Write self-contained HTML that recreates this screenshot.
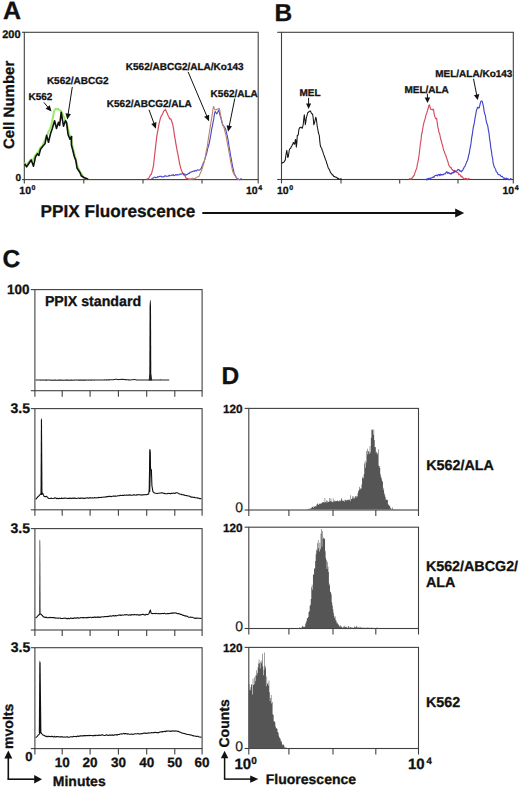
<!DOCTYPE html>
<html><head><meta charset="utf-8"><style>
html,body{margin:0;padding:0;background:#fff;}
svg{display:block;font-family:"Liberation Sans",sans-serif;}
text{stroke:#111;stroke-width:0.3px;stroke-linejoin:round;text-rendering:geometricPrecision;}
</style></head><body>
<svg width="520" height="788" viewBox="0 0 520 788">
<rect width="520" height="788" fill="#fff"/>
<text x="3.00" y="19.20" font-size="25" font-weight="bold" text-anchor="start" fill="#111" >A</text>
<rect x="24.30" y="32.30" width="233.90" height="147.30" fill="none" stroke="#404040" stroke-width="1.1"/>
<line x1="22.00" y1="32.30" x2="24.30" y2="32.30" stroke="#404040" stroke-width="1.1"/>
<line x1="22.00" y1="179.60" x2="24.30" y2="179.60" stroke="#404040" stroke-width="1.1"/>
<line x1="24.30" y1="179.60" x2="24.30" y2="183.40" stroke="#404040" stroke-width="1.1"/>
<line x1="83.80" y1="179.60" x2="83.80" y2="183.40" stroke="#404040" stroke-width="1.1"/>
<line x1="143.00" y1="179.60" x2="143.00" y2="183.40" stroke="#404040" stroke-width="1.1"/>
<line x1="202.00" y1="179.60" x2="202.00" y2="183.40" stroke="#404040" stroke-width="1.1"/>
<line x1="258.20" y1="179.60" x2="258.20" y2="183.40" stroke="#404040" stroke-width="1.1"/>
<text x="20.60" y="37.60" font-size="11" font-weight="bold" text-anchor="end" fill="#111" >200</text>
<text x="21.00" y="181.00" font-size="10" font-weight="bold" text-anchor="end" fill="#111" >0</text>
<text x="19.30" y="194.20" font-size="10.5" font-weight="bold" fill="#111">10</text>
<text x="31.58" y="190.20" font-size="7" font-weight="bold" fill="#111">0</text>
<text x="246.00" y="194.20" font-size="10.5" font-weight="bold" fill="#111">10</text>
<text x="258.28" y="190.20" font-size="7" font-weight="bold" fill="#111">4</text>
<text transform="translate(13.9,149.1) rotate(-90)" font-size="15" font-weight="bold" fill="#111">Cell Number</text>
<text x="28.50" y="100.20" font-size="10" font-weight="bold" text-anchor="start" fill="#111" >K562</text>
<text x="46.90" y="84.20" font-size="10" font-weight="bold" text-anchor="start" fill="#111" >K562/ABCG2</text>
<text x="106.80" y="107.00" font-size="10" font-weight="bold" text-anchor="start" fill="#111" >K562/ABCG2/ALA</text>
<text x="125.80" y="70.30" font-size="10" font-weight="bold" text-anchor="start" fill="#111" >K562/ABCG2/ALA/Ko143</text>
<text x="210.60" y="97.40" font-size="10" font-weight="bold" text-anchor="start" fill="#111" >K562/ALA</text>
<polyline points="24.50,162.56 25.30,164.06 26.10,164.60 26.90,164.63 27.70,163.83 28.50,162.44 29.30,161.35 30.10,160.35 30.90,159.51 31.70,159.43 32.50,160.40 33.30,159.32 34.10,158.11 34.90,155.60 35.70,154.69 36.50,154.07 37.30,152.51 38.10,152.37 38.90,151.04 39.70,148.72 40.50,147.43 41.30,146.93 42.10,146.29 42.90,144.50 43.70,142.62 44.50,141.11 45.30,138.87 46.10,137.17 46.90,135.43 47.70,133.59 48.50,131.68 49.30,130.08 50.10,128.36 50.90,126.25 51.70,123.65 52.50,119.35 53.30,115.41 54.10,111.07 54.90,109.68 55.70,108.47 56.50,109.37 57.30,109.50 58.10,108.90 58.90,109.46 59.70,110.25 60.50,110.55 61.30,111.70 62.10,112.88 62.90,115.17 63.70,116.78 64.50,118.14 65.30,120.21 66.10,122.16 66.90,123.72 67.70,126.83 68.50,130.73 69.30,133.49 70.10,136.54 70.90,140.01 71.70,142.70 72.50,145.61 73.30,149.26 74.10,152.64 74.90,155.81 75.70,158.65 76.50,161.93 77.30,165.21 78.10,167.77 78.90,169.39 79.70,171.15 80.50,172.68 81.30,173.22 82.10,174.34 82.90,176.23 83.70,177.67 84.50,177.82 85.30,177.92 86.10,178.00 86.90,178.74 87.70,179.65" fill="none" stroke="#9ae86c" stroke-width="2.0" stroke-linejoin="round" />
<polyline points="24.50,163.80 26.60,166.90 28.50,164.00 31.20,160.00 33.50,166.20 35.50,156.90 37.40,153.80 38.90,155.40 40.50,149.20 42.80,146.20 45.00,143.80 46.60,135.40 48.50,142.30 50.50,133.80 52.30,128.50 54.60,120.80 56.50,128.50 58.50,122.30 59.60,125.40 61.20,112.30 63.50,126.20 65.40,120.80 66.50,122.30 68.10,134.60 70.00,139.20 71.60,136.50 71.40,145.00 72.80,150.40 74.30,156.50 75.80,160.40 77.00,168.00 80.10,172.70 81.20,175.80 84.30,177.70 88.20,179.20" fill="none" stroke="#111" stroke-width="1.6" stroke-linejoin="round" />
<polyline points="146.50,178.99 147.20,179.15 147.90,178.92 148.60,178.32 149.30,177.27 150.00,175.75 150.70,174.63 151.40,174.22 152.10,171.31 152.80,168.60 153.50,165.53 154.20,158.94 154.90,153.05 155.60,146.59 156.30,140.54 157.00,134.89 157.70,131.23 158.40,127.37 159.10,123.70 159.80,120.58 160.50,118.02 161.20,116.09 161.90,115.21 162.60,113.71 163.30,112.12 164.00,110.74 164.70,110.50 165.40,109.28 166.10,110.88 166.80,112.40 167.50,113.84 168.20,115.70 168.90,117.10 169.60,118.80 170.30,118.71 171.00,119.29 171.70,121.19 172.40,123.20 173.10,126.33 173.80,130.68 174.50,135.56 175.20,139.42 175.90,143.85 176.60,147.57 177.30,151.32 178.00,154.80 178.70,158.53 179.40,162.50 180.10,165.69 180.80,168.34 181.50,170.55 182.20,171.96 182.90,173.12 183.60,174.44 184.30,175.27 185.00,175.88 185.70,177.46 186.40,178.37 187.10,178.65 187.80,178.72 188.50,179.17 189.20,178.79 189.90,179.32 190.60,179.14 191.30,178.93 192.00,178.78 192.70,179.44 193.40,179.57" fill="none" stroke="#d64c5e" stroke-width="1.2" stroke-linejoin="round" />
<polyline points="151.50,178.88 152.20,178.34 152.90,178.32 153.60,177.65 154.30,177.16 155.00,177.18 155.70,177.72 156.40,177.50 157.10,177.38 157.80,176.66 158.50,176.96 159.20,176.57 159.90,176.36 160.60,176.21 161.30,176.26 162.00,177.04 162.70,176.84 163.40,176.73 164.10,176.64 164.80,175.83 165.50,175.88 166.20,176.17 166.90,176.22 167.60,176.28 168.30,176.22 169.00,175.19 169.70,175.72 170.40,175.72 171.10,175.43 171.80,174.95 172.50,175.22 173.20,174.68 173.90,175.61 174.60,175.44 175.30,174.95 176.00,174.55 176.70,175.18 177.40,174.67 178.10,174.94 178.80,174.80 179.50,174.28 180.20,174.07 180.90,174.19 181.60,173.88 182.30,173.45 183.00,173.69 183.70,174.60 184.40,173.98 185.10,174.28 185.80,175.28 186.50,174.81 187.20,174.58 187.90,173.97 188.60,173.28 189.30,173.53 190.00,172.19 190.70,172.20 191.40,171.69 192.10,171.95 192.80,171.27 193.50,171.11 194.20,171.33 194.90,170.57 195.60,170.66 196.30,171.02 197.00,170.00 197.70,169.90 198.40,169.95 199.10,170.30 199.80,169.84 200.50,169.09 201.20,168.50 201.90,166.60 202.60,165.21 203.30,162.98 204.00,161.88 204.70,159.82 205.40,157.59 206.10,155.02 206.80,152.99 207.50,149.40 208.20,146.84 208.90,144.77 209.60,141.28 210.30,137.38 211.00,133.74 211.70,129.07 212.40,125.83 213.10,122.05 213.80,118.49 214.50,113.64 215.20,111.46 215.90,112.46 216.60,113.85 217.30,113.20 218.00,111.41 218.70,110.05 219.40,112.30 220.10,115.72 220.80,117.95 221.50,120.70 222.20,123.31 222.90,125.59 223.60,125.87 224.30,126.73 225.00,127.92 225.70,129.27 226.40,132.04 227.10,135.49 227.80,138.31 228.50,142.47 229.20,147.29 229.90,151.04 230.60,155.99 231.30,158.87 232.00,163.15 232.70,167.23 233.40,169.63 234.10,173.17 234.80,174.59 235.50,175.74 236.20,177.37 236.90,178.03 237.60,178.81 238.30,178.91 239.00,179.77 239.70,179.70 240.40,179.30 241.10,178.74 241.80,179.01" fill="none" stroke="#4444cc" stroke-width="1.1" stroke-linejoin="round" />
<polyline points="188.50,179.29 189.20,179.29 189.90,179.25 190.60,179.27 191.30,179.05 192.00,179.09 192.70,178.39 193.40,178.61 194.10,178.87 194.80,178.50 195.50,178.33 196.20,177.43 196.90,177.33 197.60,176.82 198.30,176.68 199.00,176.35 199.70,174.60 200.40,172.98 201.10,171.25 201.80,169.79 202.50,167.59 203.20,165.06 203.90,163.26 204.60,159.65 205.30,156.83 206.00,152.97 206.70,149.10 207.40,145.78 208.10,140.54 208.80,135.77 209.50,131.74 210.20,127.19 210.90,122.34 211.60,118.53 212.30,113.95 213.00,108.99 213.70,106.45 214.40,108.97 215.10,109.86 215.80,109.87 216.50,109.63 217.20,109.04 217.90,108.93 218.60,108.64 219.30,108.47 220.00,111.55 220.70,115.34 221.40,118.88 222.10,121.80 222.80,124.58 223.50,126.23 224.20,128.33 224.90,131.37 225.60,133.82 226.30,137.18 227.00,141.08 227.70,145.04 228.40,148.41 229.10,152.89 229.80,156.23 230.50,160.79 231.20,164.68 231.90,167.40 232.60,171.23 233.30,172.63 234.00,174.21 234.70,175.24 235.40,176.37 236.10,177.32 236.80,178.71 237.50,178.81 238.20,179.28 238.90,179.48 239.60,179.56" fill="none" stroke="#b8846c" stroke-width="1.1" stroke-linejoin="round" />
<line x1="43.80" y1="102.30" x2="47.97" y2="107.28" stroke="#111" stroke-width="1.0"/>
<polygon points="51.50,111.50 45.54,108.66 49.76,105.13" fill="#111"/>
<line x1="72.30" y1="86.90" x2="68.13" y2="114.16" stroke="#111" stroke-width="1.0"/>
<polygon points="67.30,119.60 65.49,113.25 70.93,114.08" fill="#111"/>
<line x1="149.00" y1="109.80" x2="154.01" y2="123.53" stroke="#111" stroke-width="1.0"/>
<polygon points="155.90,128.70 151.26,124.01 156.43,122.12" fill="#111"/>
<line x1="188.10" y1="71.90" x2="206.86" y2="116.23" stroke="#111" stroke-width="1.0"/>
<polygon points="209.00,121.30 204.13,116.85 209.19,114.70" fill="#111"/>
<line x1="234.80" y1="98.50" x2="229.19" y2="126.31" stroke="#111" stroke-width="1.0"/>
<polygon points="228.10,131.70 226.59,125.27 231.98,126.36" fill="#111"/>
<text x="274.40" y="21.10" font-size="24.5" font-weight="bold" text-anchor="start" fill="#111" >B</text>
<rect x="281.50" y="32.30" width="231.80" height="147.20" fill="none" stroke="#404040" stroke-width="1.1"/>
<line x1="277.20" y1="32.30" x2="281.50" y2="32.30" stroke="#404040" stroke-width="1.1"/>
<line x1="277.20" y1="179.50" x2="281.50" y2="179.50" stroke="#404040" stroke-width="1.1"/>
<line x1="281.50" y1="179.50" x2="281.50" y2="183.40" stroke="#404040" stroke-width="1.1"/>
<line x1="341.00" y1="179.50" x2="341.00" y2="183.40" stroke="#404040" stroke-width="1.1"/>
<line x1="399.70" y1="179.50" x2="399.70" y2="183.40" stroke="#404040" stroke-width="1.1"/>
<line x1="458.00" y1="179.50" x2="458.00" y2="183.40" stroke="#404040" stroke-width="1.1"/>
<line x1="513.30" y1="179.50" x2="513.30" y2="183.40" stroke="#404040" stroke-width="1.1"/>
<text x="277.00" y="194.20" font-size="10.5" font-weight="bold" fill="#111">10</text>
<text x="289.28" y="190.20" font-size="7" font-weight="bold" fill="#111">0</text>
<text x="502.50" y="194.20" font-size="10.5" font-weight="bold" fill="#111">10</text>
<text x="514.78" y="190.20" font-size="7" font-weight="bold" fill="#111">4</text>
<text x="299.40" y="95.90" font-size="10" font-weight="bold" text-anchor="start" fill="#111" >MEL</text>
<text x="404.40" y="92.60" font-size="10" font-weight="bold" text-anchor="start" fill="#111" >MEL/ALA</text>
<text x="435.20" y="77.40" font-size="10" font-weight="bold" text-anchor="start" fill="#111" >MEL/ALA/Ko143</text>
<line x1="308.60" y1="97.80" x2="308.60" y2="104.00" stroke="#111" stroke-width="1.0"/>
<polygon points="308.60,109.00 306.10,103.50 311.10,103.50" fill="#111"/>
<line x1="427.40" y1="93.80" x2="427.45" y2="98.00" stroke="#111" stroke-width="1.0"/>
<polygon points="427.50,103.00 424.69,97.53 430.19,97.47" fill="#111"/>
<line x1="473.50" y1="78.80" x2="476.73" y2="95.10" stroke="#111" stroke-width="1.0"/>
<polygon points="477.70,100.00 473.93,95.14 479.33,94.07" fill="#111"/>
<polyline points="281.80,163.29 282.30,162.88 282.80,162.29 283.30,162.56 283.80,162.19 284.30,161.82 284.80,160.60 285.30,159.86 285.80,155.97 286.30,152.87 286.80,150.26 287.30,154.21 287.80,157.56 288.30,156.56 288.80,153.26 289.30,149.98 289.80,148.85 290.30,148.57 290.80,148.10 291.30,146.52 291.80,146.02 292.30,144.89 292.80,144.04 293.30,142.54 293.80,142.90 294.30,144.21 294.80,143.92 295.30,139.61 295.80,139.79 296.30,147.15 296.80,143.12 297.30,135.39 297.80,135.55 298.30,134.09 298.80,130.20 299.30,128.37 299.80,127.60 300.30,127.70 300.80,127.20 301.30,127.24 301.80,128.02 302.30,128.21 302.80,126.37 303.30,123.73 303.80,118.67 304.30,114.88 304.80,119.06 305.30,124.70 305.80,121.81 306.30,118.13 306.80,116.10 307.30,114.36 307.80,112.57 308.30,112.39 308.80,111.74 309.30,111.33 309.80,111.32 310.30,110.90 310.80,111.75 311.30,113.19 311.80,113.78 312.30,113.78 312.80,115.24 313.30,118.97 313.80,124.73 314.30,123.57 314.80,121.56 315.30,119.32 315.80,117.17 316.30,118.82 316.80,122.78 317.30,126.96 317.80,129.09 318.30,132.24 318.80,134.13 319.30,135.35 319.80,141.33 320.30,145.53 320.80,147.06 321.30,147.77 321.80,148.77 322.30,150.49 322.80,151.55 323.30,153.43 323.80,154.90 324.30,156.05 324.80,157.45 325.30,159.12 325.80,160.26 326.30,161.39 326.80,163.57 327.30,164.61 327.80,166.36 328.30,168.18 328.80,168.76 329.30,169.59 329.80,170.67 330.30,172.11 330.80,172.86 331.30,173.27 331.80,173.98 332.30,174.97 332.80,174.81 333.30,175.48 333.80,176.47 334.30,176.66 334.80,176.57 335.30,177.02 335.80,177.28 336.30,177.19 336.80,177.68 337.30,177.86 337.80,178.60 338.30,178.37 338.80,178.96 339.30,179.35 339.80,179.38 340.30,178.91 340.80,179.22 341.30,179.01 341.80,179.17" fill="none" stroke="#151515" stroke-width="1.05" stroke-linejoin="round" />
<polyline points="409.00,179.02 409.60,178.72 410.20,179.49 410.80,178.54 411.40,179.14 412.00,178.16 412.60,176.97 413.20,176.98 413.80,175.53 414.40,175.09 415.00,172.68 415.60,170.88 416.20,169.59 416.80,167.99 417.40,164.20 418.00,161.69 418.60,158.55 419.20,154.16 419.80,148.66 420.40,143.75 421.00,140.19 421.60,134.22 422.20,132.22 422.80,128.24 423.40,124.94 424.00,122.36 424.60,120.23 425.20,118.61 425.80,115.54 426.40,114.14 427.00,112.23 427.60,110.05 428.20,108.51 428.80,105.56 429.40,104.76 430.00,107.00 430.60,109.23 431.20,109.25 431.80,109.49 432.40,109.84 433.00,109.03 433.60,110.06 434.20,114.02 434.80,116.45 435.40,118.02 436.00,118.92 436.60,118.24 437.20,122.53 437.80,126.90 438.40,128.99 439.00,132.53 439.60,133.59 440.20,136.54 440.80,139.55 441.40,141.03 442.00,143.87 442.60,145.45 443.20,148.64 443.80,150.42 444.40,151.73 445.00,153.84 445.60,154.57 446.20,156.80 446.80,158.42 447.40,160.33 448.00,162.06 448.60,164.35 449.20,165.93 449.80,166.59 450.40,167.76 451.00,167.40 451.60,169.02 452.20,169.54 452.80,170.52 453.40,170.64 454.00,170.17 454.60,170.73 455.20,171.58 455.80,170.94 456.40,172.15 457.00,172.19 457.60,172.62 458.20,173.04 458.80,174.69 459.40,174.17 460.00,174.86 460.60,175.59 461.20,176.85 461.80,176.08 462.40,177.17 463.00,177.74 463.60,178.58 464.20,178.79 464.80,179.18 465.40,178.39 466.00,178.68 466.60,178.67 467.20,179.58 467.80,179.77 468.40,178.55 469.00,178.66 469.60,178.82" fill="none" stroke="#d64c5e" stroke-width="1.15" stroke-linejoin="round" />
<polyline points="426.00,178.86 426.60,180.01 427.20,178.64 427.80,179.54 428.40,178.43 429.00,178.46 429.60,179.44 430.20,177.96 430.80,178.43 431.40,177.92 432.00,177.68 432.60,177.53 433.20,176.76 433.80,177.48 434.40,175.99 435.00,175.92 435.60,175.28 436.20,175.38 436.80,175.30 437.40,175.83 438.00,174.93 438.60,174.45 439.20,174.62 439.80,175.73 440.40,174.18 441.00,175.01 441.60,174.56 442.20,174.95 442.80,174.37 443.40,174.70 444.00,173.99 444.60,173.82 445.20,173.82 445.80,172.90 446.40,171.80 447.00,171.73 447.60,173.29 448.20,172.72 448.80,172.40 449.40,173.75 450.00,173.32 450.60,173.71 451.20,174.11 451.80,172.86 452.40,172.67 453.00,173.20 453.60,171.72 454.20,172.42 454.80,171.06 455.40,171.70 456.00,171.35 456.60,171.24 457.20,170.56 457.80,169.51 458.40,169.45 459.00,169.81 459.60,170.85 460.20,171.25 460.80,170.85 461.40,171.78 462.00,170.75 462.60,170.66 463.20,169.10 463.80,168.15 464.40,166.80 465.00,166.35 465.60,164.63 466.20,163.28 466.80,161.60 467.40,160.52 468.00,158.58 468.60,155.41 469.20,153.73 469.80,149.68 470.40,146.79 471.00,143.42 471.60,138.22 472.20,135.22 472.80,130.83 473.40,126.73 474.00,124.75 474.60,120.99 475.20,117.35 475.80,114.13 476.40,110.47 477.00,108.96 477.60,107.21 478.20,107.34 478.80,108.17 479.40,107.25 480.00,104.50 480.60,102.04 481.20,101.17 481.80,100.93 482.40,101.78 483.00,104.59 483.60,107.14 484.20,111.82 484.80,114.00 485.40,115.53 486.00,119.70 486.60,122.62 487.20,124.22 487.80,126.13 488.40,130.09 489.00,133.15 489.60,138.78 490.20,142.08 490.80,147.84 491.40,150.84 492.00,155.90 492.60,158.20 493.20,163.33 493.80,165.30 494.40,167.30 495.00,168.27 495.60,169.19 496.20,171.69 496.80,172.07 497.40,172.72 498.00,174.26 498.60,174.52 499.20,174.92 499.80,174.84 500.40,175.22 501.00,176.33 501.60,176.48 502.20,176.32 502.80,177.18 503.40,178.00 504.00,178.34 504.60,178.15 505.20,178.22 505.80,178.36 506.40,178.34 507.00,178.49 507.60,179.09 508.20,178.74 508.80,179.76 509.40,179.73 510.00,179.58 510.60,178.64 511.20,179.18 511.80,179.29" fill="none" stroke="#4444cc" stroke-width="1.15" stroke-linejoin="round" />
<text x="40.60" y="217.40" font-size="17.2" font-weight="bold" text-anchor="start" fill="#111" >PPIX Fluorescence</text>
<line x1="202.30" y1="212.90" x2="457.00" y2="212.90" stroke="#111" stroke-width="2.0"/>
<polygon points="464.2,212.9 455.2,208.4 455.2,217.4" fill="#111"/>
<text x="2.60" y="267.20" font-size="24.5" font-weight="bold" text-anchor="start" fill="#111" >C</text>
<rect x="34.90" y="289.60" width="167.20" height="101.10" fill="none" stroke="#404040" stroke-width="1.1"/>
<line x1="30.80" y1="289.60" x2="34.90" y2="289.60" stroke="#404040" stroke-width="1.1"/>
<line x1="30.80" y1="390.70" x2="34.90" y2="390.70" stroke="#404040" stroke-width="1.1"/>
<line x1="34.90" y1="390.70" x2="34.90" y2="396.70" stroke="#404040" stroke-width="1.1"/>
<line x1="62.20" y1="390.70" x2="62.20" y2="396.70" stroke="#404040" stroke-width="1.1"/>
<line x1="90.10" y1="390.70" x2="90.10" y2="396.70" stroke="#404040" stroke-width="1.1"/>
<line x1="118.40" y1="390.70" x2="118.40" y2="396.70" stroke="#404040" stroke-width="1.1"/>
<line x1="146.70" y1="390.70" x2="146.70" y2="396.70" stroke="#404040" stroke-width="1.1"/>
<line x1="174.80" y1="390.70" x2="174.80" y2="396.70" stroke="#404040" stroke-width="1.1"/>
<line x1="202.10" y1="390.70" x2="202.10" y2="396.70" stroke="#404040" stroke-width="1.1"/>
<text x="29.60" y="293.90" font-size="13.5" font-weight="bold" text-anchor="end" fill="#111" >100</text>
<text x="44.90" y="306.00" font-size="14.2" font-weight="bold" text-anchor="start" fill="#111" >PPIX standard</text>
<polyline points="35.60,379.99 36.40,379.99 37.20,379.96 38.00,380.08 38.80,379.95 39.60,380.03 40.40,380.10 41.20,379.98 42.00,380.06 42.80,380.08 43.60,379.99 44.40,380.05 45.20,380.11 46.00,380.08 46.80,380.13 47.60,380.04 48.40,380.06 49.20,380.05 50.00,380.12 50.80,380.19 51.60,380.15 52.40,380.18 53.20,380.13 54.00,380.19 54.80,380.09 55.60,380.13 56.40,380.20 57.20,380.21 58.00,380.17 58.80,380.12 59.60,380.16 60.40,380.15 61.20,380.16 62.00,380.24 62.80,380.14 63.60,380.24 64.40,380.24 65.20,380.10 66.00,380.15 66.80,380.16 67.60,380.09 68.40,380.15 69.20,380.22 70.00,380.09 70.80,380.16 71.60,380.08 72.40,380.15 73.20,380.20 74.00,380.08 74.80,380.05 75.60,380.06 76.40,380.12 77.20,380.04 78.00,380.04 78.80,380.11 79.60,380.17 80.40,380.09 81.20,380.08 82.00,380.11 82.80,380.02 83.60,380.09 84.40,380.03 85.20,380.09 86.00,380.14 86.80,379.99 87.60,380.07 88.40,380.08 89.20,380.00 90.00,380.01 90.80,380.13 91.60,380.12 92.40,379.98 93.20,380.07 94.00,380.10 94.80,379.98 95.60,380.04 96.40,379.94 97.20,379.99 98.00,380.04 98.80,380.02 99.60,380.05 100.40,379.93 101.20,379.96 102.00,380.03 102.80,379.97 103.60,379.94 104.40,379.92 105.20,380.00 106.00,379.92 106.80,379.82 107.60,379.93 108.40,379.84 109.20,379.85 110.00,379.80 110.80,379.82 111.60,379.79 112.40,379.74 113.20,379.78 114.00,379.54 114.80,379.49 115.60,379.20 116.40,379.30 117.20,379.41 118.00,379.47 118.80,379.61 119.60,379.50 120.40,379.50 121.20,379.37 122.00,379.26 122.80,379.43 123.60,379.40 124.40,379.46 125.20,379.60 126.00,379.58 126.80,379.71 127.60,379.71 128.40,379.89 129.20,379.88 130.00,379.93 130.80,379.98 131.60,379.75 132.40,379.77 133.20,379.68 134.00,379.52 134.80,379.56 135.60,379.70 136.40,379.85 137.20,379.98 138.00,380.02 138.80,380.07 139.60,379.98 140.40,379.94 141.20,380.01 142.00,379.94 142.80,379.93 143.60,380.01 144.40,380.03 145.20,379.93 146.00,379.99 146.80,380.03 147.60,380.04 148.40,379.98 149.20,380.06 150.00,379.95 150.80,380.03 151.60,380.04 152.40,380.06 153.20,380.00 154.00,379.94 154.80,379.93 155.60,380.00 156.40,379.95 157.20,380.02 158.00,379.93 158.80,380.04 159.60,379.96 160.40,379.92 161.20,379.95 162.00,379.99 162.80,380.01 163.60,379.98 164.40,379.95 165.20,380.00 166.00,380.07 166.80,380.01 167.60,380.07 168.40,379.92 169.20,380.08" fill="none" stroke="#222" stroke-width="1.1" stroke-linejoin="round" />
<polygon points="149.3,380 149.6,306 150.0,300.2 150.6,300.2 151.0,306 151.3,380" fill="#111"/>
<polygon points="148.6,380.5 149.5,374 151.2,374 152.2,380.5" fill="#222"/>
<rect x="34.90" y="408.60" width="167.20" height="101.20" fill="none" stroke="#404040" stroke-width="1.1"/>
<line x1="30.80" y1="408.60" x2="34.90" y2="408.60" stroke="#404040" stroke-width="1.1"/>
<line x1="30.80" y1="509.80" x2="34.90" y2="509.80" stroke="#404040" stroke-width="1.1"/>
<line x1="34.90" y1="509.80" x2="34.90" y2="515.80" stroke="#404040" stroke-width="1.1"/>
<line x1="62.20" y1="509.80" x2="62.20" y2="515.80" stroke="#404040" stroke-width="1.1"/>
<line x1="90.10" y1="509.80" x2="90.10" y2="515.80" stroke="#404040" stroke-width="1.1"/>
<line x1="118.40" y1="509.80" x2="118.40" y2="515.80" stroke="#404040" stroke-width="1.1"/>
<line x1="146.70" y1="509.80" x2="146.70" y2="515.80" stroke="#404040" stroke-width="1.1"/>
<line x1="174.80" y1="509.80" x2="174.80" y2="515.80" stroke="#404040" stroke-width="1.1"/>
<line x1="202.10" y1="509.80" x2="202.10" y2="515.80" stroke="#404040" stroke-width="1.1"/>
<text x="30.00" y="413.30" font-size="14" font-weight="bold" text-anchor="end" fill="#111" >3.5</text>
<polyline points="35.80,499.34 36.50,498.42 37.20,497.68 37.90,496.62 38.60,496.19 39.30,495.49 40.00,494.69 40.70,493.96 41.40,493.84 42.10,493.38 42.80,493.26 43.50,495.12 44.20,496.58 44.90,496.47 45.60,496.69 46.30,496.26 47.00,496.80 47.70,497.41 48.40,498.32 49.10,498.45 49.80,498.54 50.50,498.48 51.20,498.11 51.90,498.45 52.60,498.53 53.30,498.47 54.00,498.21 54.70,497.83 55.40,497.92 56.10,498.11 56.80,498.71 57.50,498.37 58.20,498.39 58.90,498.69 59.60,498.32 60.30,498.44 61.00,498.36 61.70,498.12 62.40,498.41 63.10,498.55 63.80,498.12 64.50,498.14 65.20,498.25 65.90,498.02 66.60,498.30 67.30,498.49 68.00,498.39 68.70,498.32 69.40,498.51 70.10,498.09 70.80,498.34 71.50,498.22 72.20,498.36 72.90,498.07 73.60,498.47 74.30,498.06 75.00,498.10 75.70,498.48 76.40,498.57 77.10,498.26 77.80,498.25 78.50,498.15 79.20,498.16 79.90,498.37 80.60,498.11 81.30,498.07 82.00,498.27 82.70,498.07 83.40,498.33 84.10,498.41 84.80,498.35 85.50,498.15 86.20,498.04 86.90,498.06 87.60,497.78 88.30,498.17 89.00,497.91 89.70,497.88 90.40,497.71 91.10,497.90 91.80,497.95 92.50,497.81 93.20,498.07 93.90,497.92 94.60,497.63 95.30,497.77 96.00,497.98 96.70,497.71 97.40,497.73 98.10,497.38 98.80,497.61 99.50,497.55 100.20,497.44 100.90,497.39 101.60,497.42 102.30,497.32 103.00,497.22 103.70,496.96 104.40,497.05 105.10,497.30 105.80,496.90 106.50,496.60 107.20,496.52 107.90,496.77 108.60,496.41 109.30,496.36 110.00,496.30 110.70,496.44 111.40,496.70 112.10,496.32 112.80,496.24 113.50,496.16 114.20,496.13 114.90,496.03 115.60,496.12 116.30,496.16 117.00,495.97 117.70,495.73 118.40,495.80 119.10,495.88 119.80,495.36 120.50,495.34 121.20,495.50 121.90,495.47 122.60,495.37 123.30,495.27 124.00,495.34 124.70,495.06 125.40,495.18 126.10,495.28 126.80,494.96 127.50,495.22 128.20,495.13 128.90,495.23 129.60,494.73 130.30,495.25 131.00,495.16 131.70,495.28 132.40,495.29 133.10,494.87 133.80,495.10 134.50,494.78 135.20,495.06 135.90,495.25 136.60,494.79 137.30,494.85 138.00,494.67 138.70,494.71 139.40,494.69 140.10,494.60 140.80,495.11 141.50,495.02 142.20,494.74 142.90,494.88 143.60,494.83 144.30,494.70 145.00,494.61 145.70,494.73 146.40,494.64 147.10,494.40 147.80,494.39 148.50,494.49" fill="none" stroke="#111" stroke-width="1.1" stroke-linejoin="round" />
<polyline points="148.60,494.40 149.20,490.00 149.90,449.60 150.60,469.00 151.40,469.80 151.90,485.50 152.90,491.60 154.50,493.00 157.00,493.50 161.80,492.80 165.00,493.60 165.00,493.46 165.70,493.71 166.40,493.71 167.10,493.81 167.80,493.41 168.50,493.44 169.20,493.39 169.90,493.44 170.60,493.72 171.30,493.29 172.00,493.46 172.70,493.20 173.40,493.17 174.10,493.18 174.80,493.36 175.50,493.15 176.20,492.72 176.90,492.81 177.60,492.79 178.30,493.47 179.00,493.67 179.70,493.91 180.40,494.16 181.10,494.33 181.80,494.63 182.50,494.72 183.20,494.58 183.90,495.12 184.60,495.08 185.30,495.43 186.00,495.50 186.70,495.60 187.40,495.74 188.10,495.96 188.80,496.06 189.50,496.11 190.20,496.71 190.90,496.87 191.60,497.15 192.30,497.15 193.00,497.24 193.70,497.53 194.40,497.33 195.10,497.79 195.80,497.77 196.50,497.74 197.20,497.87 197.90,498.19 198.60,498.15 199.30,498.39 200.00,498.60 200.70,498.60 201.40,498.56" fill="none" stroke="#111" stroke-width="1.1" stroke-linejoin="round" />
<polygon points="40.5,495 40.9,420 41.4,418 42.0,420 42.5,495" fill="#111"/>
<polygon points="149.0,492 149.6,452 150.0,449.5 150.6,452 150.9,469 150.2,492" fill="#111"/>
<rect x="34.90" y="528.60" width="167.20" height="101.40" fill="none" stroke="#404040" stroke-width="1.1"/>
<line x1="30.80" y1="528.60" x2="34.90" y2="528.60" stroke="#404040" stroke-width="1.1"/>
<line x1="30.80" y1="630.00" x2="34.90" y2="630.00" stroke="#404040" stroke-width="1.1"/>
<line x1="34.90" y1="630.00" x2="34.90" y2="636.00" stroke="#404040" stroke-width="1.1"/>
<line x1="62.20" y1="630.00" x2="62.20" y2="636.00" stroke="#404040" stroke-width="1.1"/>
<line x1="90.10" y1="630.00" x2="90.10" y2="636.00" stroke="#404040" stroke-width="1.1"/>
<line x1="118.40" y1="630.00" x2="118.40" y2="636.00" stroke="#404040" stroke-width="1.1"/>
<line x1="146.70" y1="630.00" x2="146.70" y2="636.00" stroke="#404040" stroke-width="1.1"/>
<line x1="174.80" y1="630.00" x2="174.80" y2="636.00" stroke="#404040" stroke-width="1.1"/>
<line x1="202.10" y1="630.00" x2="202.10" y2="636.00" stroke="#404040" stroke-width="1.1"/>
<text x="30.00" y="533.10" font-size="14" font-weight="bold" text-anchor="end" fill="#111" >3.5</text>
<polyline points="35.60,617.97 36.30,617.37 37.00,616.95 37.70,615.95 38.40,615.30 39.10,614.78 39.80,613.94 40.50,614.09 41.20,614.28 41.90,615.28 42.60,615.80 43.30,616.96 44.00,616.88 44.70,617.44 45.40,617.42 46.10,617.03 46.80,617.75 47.50,617.80 48.20,617.65 48.90,617.68 49.60,617.42 50.30,617.37 51.00,617.76 51.70,617.46 52.40,617.58 53.10,617.64 53.80,617.52 54.50,617.85 55.20,617.86 55.90,618.17 56.60,617.97 57.30,618.08 58.00,618.02 58.70,618.17 59.40,618.06 60.10,617.97 60.80,618.51 61.50,618.54 62.20,618.47 62.90,618.42 63.60,618.18 64.30,618.15 65.00,618.23 65.70,618.12 66.40,618.64 67.10,618.42 67.80,618.72 68.50,618.36 69.20,618.72 69.90,618.61 70.60,617.98 71.30,618.09 72.00,618.54 72.70,618.20 73.40,618.52 74.10,618.07 74.80,617.81 75.50,618.16 76.20,618.23 76.90,617.84 77.60,617.69 78.30,617.84 79.00,618.26 79.70,618.09 80.40,617.62 81.10,617.69 81.80,617.57 82.50,617.52 83.20,618.01 83.90,617.56 84.60,617.80 85.30,617.70 86.00,617.50 86.70,617.85 87.40,617.39 88.10,617.70 88.80,617.29 89.50,617.46 90.20,617.27 90.90,617.27 91.60,617.71 92.30,617.55 93.00,617.16 93.70,617.52 94.40,617.01 95.10,617.09 95.80,617.37 96.50,617.22 97.20,616.87 97.90,617.53 98.60,617.03 99.30,617.09 100.00,617.49 100.70,617.10 101.40,617.00 102.10,616.76 102.80,616.69 103.50,616.95 104.20,616.63 104.90,616.80 105.60,616.56 106.30,616.54 107.00,616.81 107.70,616.40 108.40,616.38 109.10,616.50 109.80,615.94 110.50,615.84 111.20,616.29 111.90,616.15 112.60,615.68 113.30,615.58 114.00,615.91 114.70,615.99 115.40,615.41 116.10,615.88 116.80,615.78 117.50,615.53 118.20,615.34 118.90,615.06 119.60,614.96 120.30,615.55 121.00,614.98 121.70,615.25 122.40,614.88 123.10,615.22 123.80,615.00 124.50,614.76 125.20,614.67 125.90,615.05 126.60,614.60 127.30,614.71 128.00,614.94 128.70,615.15 129.40,614.98 130.10,614.75 130.80,615.19 131.50,614.69 132.20,614.56 132.90,614.74 133.60,614.86 134.30,614.59 135.00,614.67 135.70,614.81 136.40,614.95 137.10,614.61 137.80,614.75 138.50,615.10 139.20,615.13 139.90,614.88 140.60,614.88 141.30,614.78 142.00,614.44 142.70,614.35 143.40,614.31 144.10,614.91 144.80,614.74 145.50,614.90 146.20,614.21 146.90,614.62 147.60,614.43 148.30,614.22 149.00,613.54 149.70,611.60 150.40,610.04 151.10,613.09 151.80,613.47 152.50,613.60 153.20,613.50 153.90,613.50 154.60,613.57 155.30,613.67 156.00,613.30 156.70,613.54 157.40,613.71 158.10,613.70 158.80,613.40 159.50,613.68 160.20,613.75 160.90,613.55 161.60,613.59 162.30,613.42 163.00,613.56 163.70,613.58 164.40,613.21 165.10,613.60 165.80,613.85 166.50,613.77 167.20,613.66 167.90,613.42 168.60,613.66 169.30,613.51 170.00,613.35 170.70,613.57 171.40,612.98 172.10,613.38 172.80,612.82 173.50,613.16 174.20,613.02 174.90,612.78 175.60,613.05 176.30,613.09 177.00,613.39 177.70,613.82 178.40,613.58 179.10,613.62 179.80,614.05 180.50,614.53 181.20,614.41 181.90,614.59 182.60,615.32 183.30,615.35 184.00,615.41 184.70,615.93 185.40,615.74 186.10,616.19 186.80,616.07 187.50,616.44 188.20,616.91 188.90,617.19 189.60,617.29 190.30,617.06 191.00,617.33 191.70,617.26 192.40,617.26 193.10,617.63 193.80,617.99 194.50,618.12 195.20,618.15 195.90,618.44 196.60,618.09 197.30,618.09 198.00,618.31 198.70,618.22 199.40,618.21 200.10,618.38 200.80,618.56 201.50,618.50" fill="none" stroke="#111" stroke-width="1.1" stroke-linejoin="round" />
<polygon points="39.3,614 39.6,541 39.9,539.2 40.2,541 40.5,614" fill="#111"/>
<rect x="34.90" y="647.70" width="167.20" height="100.90" fill="none" stroke="#404040" stroke-width="1.1"/>
<line x1="30.80" y1="647.70" x2="34.90" y2="647.70" stroke="#404040" stroke-width="1.1"/>
<line x1="30.80" y1="748.60" x2="34.90" y2="748.60" stroke="#404040" stroke-width="1.1"/>
<line x1="34.90" y1="748.60" x2="34.90" y2="754.60" stroke="#404040" stroke-width="1.1"/>
<line x1="62.20" y1="748.60" x2="62.20" y2="754.60" stroke="#404040" stroke-width="1.1"/>
<line x1="90.10" y1="748.60" x2="90.10" y2="754.60" stroke="#404040" stroke-width="1.1"/>
<line x1="118.40" y1="748.60" x2="118.40" y2="754.60" stroke="#404040" stroke-width="1.1"/>
<line x1="146.70" y1="748.60" x2="146.70" y2="754.60" stroke="#404040" stroke-width="1.1"/>
<line x1="174.80" y1="748.60" x2="174.80" y2="754.60" stroke="#404040" stroke-width="1.1"/>
<line x1="202.10" y1="748.60" x2="202.10" y2="754.60" stroke="#404040" stroke-width="1.1"/>
<text x="30.20" y="652.30" font-size="14" font-weight="bold" text-anchor="end" fill="#111" >3.5</text>
<polyline points="35.60,737.58 36.30,737.17 37.00,736.63 37.70,735.73 38.40,734.92 39.10,734.44 39.80,733.18 40.50,732.17 41.20,733.17 41.90,733.97 42.60,734.64 43.30,735.27 44.00,735.29 44.70,735.87 45.40,736.06 46.10,736.70 46.80,736.13 47.50,736.68 48.20,736.18 48.90,736.63 49.60,736.40 50.30,736.47 51.00,736.80 51.70,736.24 52.40,736.29 53.10,736.91 53.80,736.64 54.50,736.37 55.20,737.02 55.90,737.01 56.60,736.46 57.30,736.71 58.00,736.54 58.70,736.69 59.40,736.94 60.10,736.66 60.80,737.06 61.50,736.64 62.20,736.76 62.90,737.24 63.60,736.98 64.30,737.03 65.00,737.15 65.70,737.03 66.40,736.94 67.10,736.66 67.80,737.11 68.50,737.25 69.20,737.22 69.90,736.97 70.60,736.72 71.30,736.70 72.00,736.89 72.70,736.85 73.40,736.42 74.10,736.44 74.80,736.46 75.50,736.50 76.20,736.65 76.90,736.37 77.60,735.97 78.30,736.46 79.00,736.12 79.70,736.12 80.40,735.85 81.10,735.92 81.80,735.83 82.50,736.07 83.20,735.58 83.90,735.87 84.60,735.58 85.30,735.92 86.00,735.43 86.70,735.58 87.40,735.60 88.10,735.78 88.80,735.35 89.50,735.61 90.20,735.41 90.90,735.44 91.60,735.55 92.30,735.86 93.00,735.50 93.70,735.81 94.40,735.23 95.10,735.74 95.80,735.32 96.50,735.18 97.20,735.54 97.90,735.63 98.60,734.98 99.30,735.14 100.00,735.47 100.70,735.16 101.40,735.08 102.10,734.90 102.80,734.91 103.50,735.30 104.20,735.54 104.90,735.54 105.60,735.18 106.30,734.83 107.00,735.03 107.70,735.34 108.40,735.36 109.10,735.21 109.80,734.91 110.50,735.10 111.20,735.06 111.90,735.15 112.60,734.88 113.30,735.34 114.00,735.30 114.70,734.77 115.40,734.79 116.10,735.08 116.80,734.56 117.50,734.91 118.20,734.50 118.90,734.51 119.60,734.40 120.30,733.95 121.00,733.88 121.70,733.75 122.40,733.94 123.10,733.83 123.80,733.35 124.50,733.92 125.20,733.63 125.90,733.55 126.60,733.72 127.30,734.14 128.00,733.89 128.70,733.98 129.40,734.23 130.10,734.30 130.80,734.20 131.50,734.00 132.20,734.16 132.90,734.34 133.60,734.22 134.30,734.02 135.00,733.81 135.70,733.78 136.40,733.99 137.10,733.83 137.80,733.40 138.50,733.84 139.20,733.93 139.90,733.81 140.60,733.83 141.30,733.79 142.00,733.48 142.70,733.61 143.40,733.28 144.10,733.04 144.80,733.17 145.50,733.10 146.20,733.49 146.90,733.27 147.60,733.12 148.30,733.13 149.00,732.74 149.70,732.98 150.40,733.05 151.10,732.79 151.80,732.64 152.50,732.71 153.20,732.61 153.90,732.81 154.60,732.39 155.30,732.31 156.00,732.42 156.70,732.64 157.40,732.64 158.10,732.52 158.80,732.63 159.50,732.14 160.20,731.81 160.90,732.03 161.60,731.90 162.30,731.62 163.00,731.86 163.70,731.54 164.40,731.37 165.10,731.33 165.80,731.66 166.50,730.91 167.20,731.10 167.90,731.03 168.60,730.96 169.30,731.11 170.00,730.94 170.70,731.42 171.40,731.11 172.10,731.24 172.80,730.85 173.50,731.05 174.20,731.13 174.90,731.29 175.60,730.86 176.30,730.99 177.00,731.25 177.70,731.39 178.40,731.25 179.10,731.75 179.80,732.18 180.50,732.21 181.20,732.65 181.90,732.87 182.60,733.30 183.30,733.23 184.00,733.55 184.70,733.54 185.40,734.03 186.10,733.97 186.80,734.31 187.50,734.44 188.20,734.56 188.90,734.57 189.60,734.77 190.30,735.12 191.00,735.05 191.70,735.04 192.40,735.70 193.10,735.47 193.80,736.05 194.50,735.95 195.20,735.93 195.90,736.39 196.60,736.53 197.30,736.24 198.00,736.23 198.70,736.71 199.40,736.97 200.10,736.93 200.80,737.18 201.50,737.04" fill="none" stroke="#111" stroke-width="1.1" stroke-linejoin="round" />
<polygon points="38.8,733 39.3,663 39.9,660.2 40.6,663 41.4,733" fill="#111"/>
<text x="32.40" y="760.60" font-size="13" font-weight="bold" text-anchor="end" fill="#111" >0</text>
<text x="62.20" y="767.20" font-size="13.5" font-weight="bold" text-anchor="middle" fill="#111" >10</text>
<text x="90.10" y="767.20" font-size="13.5" font-weight="bold" text-anchor="middle" fill="#111" >20</text>
<text x="118.40" y="767.20" font-size="13.5" font-weight="bold" text-anchor="middle" fill="#111" >30</text>
<text x="146.70" y="767.20" font-size="13.5" font-weight="bold" text-anchor="middle" fill="#111" >40</text>
<text x="174.80" y="767.20" font-size="13.5" font-weight="bold" text-anchor="middle" fill="#111" >50</text>
<text x="202.10" y="767.20" font-size="13.5" font-weight="bold" text-anchor="middle" fill="#111" >60</text>
<text x="52.80" y="785.50" font-size="14" font-weight="bold" text-anchor="start" fill="#111" >Minutes</text>
<text transform="translate(13.4,748.9) rotate(-90)" font-size="14" font-weight="bold" fill="#111">mvolts</text>
<line x1="8.30" y1="757.00" x2="8.30" y2="779.20" stroke="#111" stroke-width="1.6"/>
<line x1="7.50" y1="779.20" x2="36.00" y2="779.20" stroke="#111" stroke-width="1.6"/>
<polygon points="8.3,750.5 4.3,758.5 12.3,758.5" fill="#111"/>
<polygon points="42.0,779.2 34.2,775.0 34.2,783.4" fill="#111"/>
<text x="221.40" y="384.40" font-size="24.5" font-weight="bold" text-anchor="start" fill="#111" >D</text>
<rect x="248.80" y="408.40" width="169.70" height="101.60" fill="none" stroke="#404040" stroke-width="1.1"/>
<line x1="244.60" y1="408.40" x2="248.80" y2="408.40" stroke="#404040" stroke-width="1.1"/>
<line x1="244.60" y1="510.00" x2="248.80" y2="510.00" stroke="#404040" stroke-width="1.1"/>
<line x1="248.80" y1="510.00" x2="248.80" y2="516.00" stroke="#404040" stroke-width="1.1"/>
<line x1="288.90" y1="510.00" x2="288.90" y2="516.00" stroke="#404040" stroke-width="1.1"/>
<line x1="333.00" y1="510.00" x2="333.00" y2="516.00" stroke="#404040" stroke-width="1.1"/>
<line x1="375.80" y1="510.00" x2="375.80" y2="516.00" stroke="#404040" stroke-width="1.1"/>
<line x1="418.50" y1="510.00" x2="418.50" y2="516.00" stroke="#404040" stroke-width="1.1"/>
<text x="242.60" y="413.00" font-size="11.8" font-weight="bold" text-anchor="end" fill="#111" >120</text>
<text x="243.10" y="512.40" font-size="14" font-weight="normal" text-anchor="end" fill="#1a1a1a" style="stroke:#1a1a1a;stroke-width:0.15px">0</text>
<polygon points="306.50,509.60 306.50,509.46 307.05,509.46 307.05,509.22 307.60,509.22 307.60,509.25 308.15,509.25 308.15,508.86 308.70,508.86 308.70,509.11 309.25,509.11 309.25,508.68 309.80,508.68 309.80,508.73 310.35,508.73 310.35,508.43 310.90,508.43 310.90,507.25 311.45,507.25 311.45,508.32 312.00,508.32 312.00,506.78 312.55,506.78 312.55,507.12 313.10,507.12 313.10,508.08 313.65,508.08 313.65,505.94 314.20,505.94 314.20,506.78 314.75,506.78 314.75,506.84 315.30,506.84 315.30,505.99 315.85,505.99 315.85,506.62 316.40,506.62 316.40,504.69 316.95,504.69 316.95,504.29 317.50,504.29 317.50,503.32 318.05,503.32 318.05,504.82 318.60,504.82 318.60,504.61 319.15,504.61 319.15,503.67 319.70,503.67 319.70,503.40 320.25,503.40 320.25,503.42 320.80,503.42 320.80,503.97 321.35,503.97 321.35,503.06 321.90,503.06 321.90,502.74 322.45,502.74 322.45,501.88 323.00,501.88 323.00,502.35 323.55,502.35 323.55,502.05 324.10,502.05 324.10,502.73 324.65,502.73 324.65,497.97 325.20,497.97 325.20,501.93 325.75,501.93 325.75,502.49 326.30,502.49 326.30,500.58 326.85,500.58 326.85,502.58 327.40,502.58 327.40,500.79 327.95,500.79 327.95,501.75 328.50,501.75 328.50,501.99 329.05,501.99 329.05,497.98 329.60,497.98 329.60,501.81 330.15,501.81 330.15,501.12 330.70,501.12 330.70,498.16 331.25,498.16 331.25,501.55 331.80,501.55 331.80,501.63 332.35,501.63 332.35,502.17 332.90,502.17 332.90,498.60 333.45,498.60 333.45,501.41 334.00,501.41 334.00,500.53 334.55,500.53 334.55,501.56 335.10,501.56 335.10,500.70 335.65,500.70 335.65,501.42 336.20,501.42 336.20,500.99 336.75,500.99 336.75,501.09 337.30,501.09 337.30,500.20 337.85,500.20 337.85,500.88 338.40,500.88 338.40,501.40 338.95,501.40 338.95,501.23 339.50,501.23 339.50,500.32 340.05,500.32 340.05,501.18 340.60,501.18 340.60,500.21 341.15,500.21 341.15,498.11 341.70,498.11 341.70,499.43 342.25,499.43 342.25,500.82 342.80,500.82 342.80,500.97 343.35,500.97 343.35,500.80 343.90,500.80 343.90,499.72 344.45,499.72 344.45,501.75 345.00,501.75 345.00,500.15 345.55,500.15 345.55,499.67 346.10,499.67 346.10,500.58 346.65,500.58 346.65,500.18 347.20,500.18 347.20,499.73 347.75,499.73 347.75,500.32 348.30,500.32 348.30,499.52 348.85,499.52 348.85,499.74 349.40,499.74 349.40,499.64 349.95,499.64 349.95,501.16 350.50,501.16 350.50,495.21 351.05,495.21 351.05,499.07 351.60,499.07 351.60,499.05 352.15,499.05 352.15,496.33 352.70,496.33 352.70,498.31 353.25,498.31 353.25,496.42 353.80,496.42 353.80,498.71 354.35,498.71 354.35,497.63 354.90,497.63 354.90,496.30 355.45,496.30 355.45,496.53 356.00,496.53 356.00,495.85 356.55,495.85 356.55,497.48 357.10,497.48 357.10,496.35 357.65,496.35 357.65,492.98 358.20,492.98 358.20,490.95 358.75,490.95 358.75,489.69 359.30,489.69 359.30,486.84 359.85,486.84 359.85,489.41 360.40,489.41 360.40,488.21 360.95,488.21 360.95,488.47 361.50,488.47 361.50,484.38 362.05,484.38 362.05,477.89 362.60,477.89 362.60,476.63 363.15,476.63 363.15,478.48 363.70,478.48 363.70,474.26 364.25,474.26 364.25,463.55 364.80,463.55 364.80,460.73 365.35,460.73 365.35,467.75 365.90,467.75 365.90,462.43 366.45,462.43 366.45,450.89 367.00,450.89 367.00,448.85 367.55,448.85 367.55,454.49 368.10,454.49 368.10,451.35 368.65,451.35 368.65,451.22 369.20,451.22 369.20,453.84 369.75,453.84 369.75,446.06 370.30,446.06 370.30,452.57 370.85,452.57 370.85,437.91 371.40,437.91 371.40,429.57 371.95,429.57 371.95,430.30 372.50,430.30 372.50,429.50 373.05,429.50 373.05,434.68 373.60,434.68 373.60,429.50 374.15,429.50 374.15,440.01 374.70,440.01 374.70,447.22 375.25,447.22 375.25,447.10 375.80,447.10 375.80,452.70 376.35,452.70 376.35,451.85 376.90,451.85 376.90,454.54 377.45,454.54 377.45,452.91 378.00,452.91 378.00,449.27 378.55,449.27 378.55,465.86 379.10,465.86 379.10,466.06 379.65,466.06 379.65,467.96 380.20,467.96 380.20,474.19 380.75,474.19 380.75,476.71 381.30,476.71 381.30,478.59 381.85,478.59 381.85,480.69 382.40,480.69 382.40,481.85 382.95,481.85 382.95,490.03 383.50,490.03 383.50,487.82 384.05,487.82 384.05,493.23 384.60,493.23 384.60,495.32 385.15,495.32 385.15,497.03 385.70,497.03 385.70,499.67 386.25,499.67 386.25,499.46 386.80,499.46 386.80,500.36 387.35,500.36 387.35,499.64 387.90,499.64 387.90,504.06 388.45,504.06 388.45,505.17 389.00,505.17 389.00,505.39 389.55,505.39 389.55,506.10 390.10,506.10 390.10,507.79 390.65,507.79 390.65,508.27 391.20,508.27 391.20,509.45 391.75,509.45 391.75,508.73 392.30,508.73 392.30,507.42 392.85,507.42 392.85,509.14 393.40,509.14 393.40,509.45 393.95,509.45 393.95,509.37 394.50,509.37 394.50,509.20 395.05,509.20 395.05,509.41 395.60,509.41 395.60,509.32 396.15,509.32 396.15,509.60 396.70,509.60 396.70,509.24 397.25,509.24 397.25,509.39 397.80,509.39 397.80,509.49 398.35,509.49 398.35,509.52 398.90,509.52 398.90,509.33 399.45,509.33 399.45,509.60" fill="#555555" stroke="none"/>
<text x="426.30" y="469.90" font-size="14.3" font-weight="bold" text-anchor="start" fill="#111" >K562/ALA</text>
<rect x="248.80" y="527.20" width="169.70" height="101.30" fill="none" stroke="#404040" stroke-width="1.1"/>
<line x1="244.60" y1="527.20" x2="248.80" y2="527.20" stroke="#404040" stroke-width="1.1"/>
<line x1="244.60" y1="628.50" x2="248.80" y2="628.50" stroke="#404040" stroke-width="1.1"/>
<line x1="248.80" y1="628.50" x2="248.80" y2="634.50" stroke="#404040" stroke-width="1.1"/>
<line x1="288.90" y1="628.50" x2="288.90" y2="634.50" stroke="#404040" stroke-width="1.1"/>
<line x1="333.00" y1="628.50" x2="333.00" y2="634.50" stroke="#404040" stroke-width="1.1"/>
<line x1="375.80" y1="628.50" x2="375.80" y2="634.50" stroke="#404040" stroke-width="1.1"/>
<line x1="418.50" y1="628.50" x2="418.50" y2="634.50" stroke="#404040" stroke-width="1.1"/>
<text x="242.60" y="531.80" font-size="11.8" font-weight="bold" text-anchor="end" fill="#111" >120</text>
<text x="243.10" y="630.90" font-size="14" font-weight="normal" text-anchor="end" fill="#1a1a1a" style="stroke:#1a1a1a;stroke-width:0.15px">0</text>
<polygon points="297.00,628.20 297.00,628.10 297.55,628.10 297.55,628.09 298.10,628.09 298.10,628.02 298.65,628.02 298.65,627.92 299.20,627.92 299.20,627.14 299.75,627.14 299.75,627.65 300.30,627.65 300.30,627.91 300.85,627.91 300.85,628.17 301.40,628.17 301.40,627.20 301.95,627.20 301.95,626.52 302.50,626.52 302.50,625.75 303.05,625.75 303.05,626.93 303.60,626.93 303.60,626.63 304.15,626.63 304.15,626.98 304.70,626.98 304.70,626.43 305.25,626.43 305.25,623.75 305.80,623.75 305.80,622.44 306.35,622.44 306.35,620.70 306.90,620.70 306.90,617.76 307.45,617.76 307.45,618.17 308.00,618.17 308.00,616.94 308.55,616.94 308.55,612.09 309.10,612.09 309.10,611.18 309.65,611.18 309.65,605.67 310.20,605.67 310.20,604.63 310.75,604.63 310.75,599.00 311.30,599.00 311.30,587.15 311.85,587.15 311.85,584.71 312.40,584.71 312.40,589.84 312.95,589.84 312.95,573.91 313.50,573.91 313.50,575.02 314.05,575.02 314.05,568.17 314.60,568.17 314.60,568.83 315.15,568.83 315.15,561.07 315.70,561.07 315.70,554.18 316.25,554.18 316.25,549.44 316.80,549.44 316.80,550.71 317.35,550.71 317.35,543.27 317.90,543.27 317.90,540.10 318.45,540.10 318.45,548.30 319.00,548.30 319.00,551.54 319.55,551.54 319.55,542.80 320.10,542.80 320.10,549.28 320.65,549.28 320.65,533.43 321.20,533.43 321.20,529.00 321.75,529.00 321.75,546.67 322.30,546.67 322.30,530.94 322.85,530.94 322.85,539.12 323.40,539.12 323.40,537.19 323.95,537.19 323.95,538.36 324.50,538.36 324.50,538.88 325.05,538.88 325.05,551.22 325.60,551.22 325.60,558.30 326.15,558.30 326.15,560.22 326.70,560.22 326.70,569.02 327.25,569.02 327.25,562.03 327.80,562.03 327.80,566.68 328.35,566.68 328.35,572.11 328.90,572.11 328.90,585.53 329.45,585.53 329.45,583.48 330.00,583.48 330.00,591.63 330.55,591.63 330.55,592.29 331.10,592.29 331.10,594.51 331.65,594.51 331.65,602.22 332.20,602.22 332.20,605.39 332.75,605.39 332.75,609.37 333.30,609.37 333.30,612.66 333.85,612.66 333.85,615.84 334.40,615.84 334.40,617.98 334.95,617.98 334.95,616.40 335.50,616.40 335.50,620.31 336.05,620.31 336.05,620.66 336.60,620.66 336.60,623.20 337.15,623.20 337.15,622.39 337.70,622.39 337.70,624.16 338.25,624.16 338.25,624.58 338.80,624.58 338.80,625.60 339.35,625.60 339.35,626.54 339.90,626.54 339.90,626.78 340.45,626.78 340.45,625.34 341.00,625.34 341.00,626.51 341.55,626.51 341.55,626.64 342.10,626.64 342.10,628.20 342.65,628.20 342.65,627.18 343.20,627.18 343.20,626.50 343.75,626.50 343.75,627.67 344.30,627.67 344.30,625.64 344.85,625.64 344.85,626.92 345.40,626.92 345.40,626.77 345.95,626.77 345.95,627.41 346.50,627.41 346.50,626.68 347.05,626.68 347.05,627.56 347.60,627.56 347.60,628.04 348.15,628.04 348.15,625.90 348.70,625.90 348.70,626.43 349.25,626.43 349.25,627.96 349.80,627.96 349.80,627.28 350.35,627.28 350.35,626.88 350.90,626.88 350.90,627.92 351.45,627.92 351.45,627.26 352.00,627.26 352.00,627.95 352.55,627.95 352.55,627.21 353.10,627.21 353.10,628.20 353.65,628.20 353.65,627.87 354.20,627.87 354.20,626.16 354.75,626.16 354.75,627.23 355.30,627.23 355.30,627.30 355.85,627.30 355.85,627.30 356.40,627.30 356.40,625.79 356.95,625.79 356.95,626.85 357.50,626.85 357.50,627.88 358.05,627.88 358.05,627.67 358.60,627.67 358.60,626.99 359.15,626.99 359.15,628.08 359.70,628.08 359.70,626.82 360.25,626.82 360.25,627.42 360.80,627.42 360.80,627.79 361.35,627.79 361.35,627.60 361.90,627.60 361.90,627.70 362.45,627.70 362.45,627.86 363.00,627.86 363.00,627.77 363.55,627.77 363.55,627.78 364.10,627.78 364.10,627.81 364.65,627.81 364.65,627.65 365.20,627.65 365.20,627.88 365.75,627.88 365.75,627.64 366.30,627.64 366.30,628.14 366.85,628.14 366.85,627.59 367.40,627.59 367.40,627.85 367.95,627.85 367.95,627.47 368.50,627.47 368.50,628.11 369.05,628.11 369.05,627.90 369.60,627.90 369.60,627.85 370.15,627.85 370.15,627.64 370.70,627.64 370.70,628.20 371.25,628.20 371.25,627.53 371.80,627.53 371.80,627.98 372.35,627.98 372.35,627.84 372.90,627.84 372.90,627.90 373.45,627.90 373.45,628.02 374.00,628.02 374.00,627.93 374.55,627.93 374.55,627.85 375.10,627.85 375.10,627.96 375.65,627.96 375.65,627.94 376.20,627.94 376.20,627.74 376.75,627.74 376.75,627.63 377.30,627.63 377.30,627.85 377.85,627.85 377.85,627.91 378.40,627.91 378.40,627.88 378.95,627.88 378.95,628.00 379.50,628.00 379.50,628.20 380.05,628.20 380.05,628.20" fill="#555555" stroke="none"/>
<text x="425.90" y="570.70" font-size="14.3" font-weight="bold" text-anchor="start" fill="#111" >K562/ABCG2/</text>
<text x="425.90" y="587.10" font-size="14.3" font-weight="bold" text-anchor="start" fill="#111" >ALA</text>
<rect x="248.80" y="647.40" width="169.70" height="101.10" fill="none" stroke="#404040" stroke-width="1.1"/>
<line x1="244.60" y1="647.40" x2="248.80" y2="647.40" stroke="#404040" stroke-width="1.1"/>
<line x1="244.60" y1="748.50" x2="248.80" y2="748.50" stroke="#404040" stroke-width="1.1"/>
<line x1="248.80" y1="748.50" x2="248.80" y2="754.50" stroke="#404040" stroke-width="1.1"/>
<line x1="288.90" y1="748.50" x2="288.90" y2="754.50" stroke="#404040" stroke-width="1.1"/>
<line x1="333.00" y1="748.50" x2="333.00" y2="754.50" stroke="#404040" stroke-width="1.1"/>
<line x1="375.80" y1="748.50" x2="375.80" y2="754.50" stroke="#404040" stroke-width="1.1"/>
<line x1="418.50" y1="748.50" x2="418.50" y2="754.50" stroke="#404040" stroke-width="1.1"/>
<text x="242.60" y="652.00" font-size="11.8" font-weight="bold" text-anchor="end" fill="#111" >120</text>
<text x="243.10" y="750.90" font-size="14" font-weight="normal" text-anchor="end" fill="#1a1a1a" style="stroke:#1a1a1a;stroke-width:0.15px">0</text>
<polygon points="248.90,748.40 248.90,684.12 249.45,684.12 249.45,690.05 250.00,690.05 250.00,690.25 250.55,690.25 250.55,687.19 251.10,687.19 251.10,684.02 251.65,684.02 251.65,684.96 252.20,684.96 252.20,694.47 252.75,694.47 252.75,678.75 253.30,678.75 253.30,684.97 253.85,684.97 253.85,684.21 254.40,684.21 254.40,677.15 254.95,677.15 254.95,681.21 255.50,681.21 255.50,675.51 256.05,675.51 256.05,670.30 256.60,670.30 256.60,675.41 257.15,675.41 257.15,673.08 257.70,673.08 257.70,667.18 258.25,667.18 258.25,663.60 258.80,663.60 258.80,659.60 259.35,659.60 259.35,663.32 259.90,663.32 259.90,668.49 260.45,668.49 260.45,661.69 261.00,661.69 261.00,663.14 261.55,663.14 261.55,660.41 262.10,660.41 262.10,653.87 262.65,653.87 262.65,666.40 263.20,666.40 263.20,675.20 263.75,675.20 263.75,669.74 264.30,669.74 264.30,652.50 264.85,652.50 264.85,665.79 265.40,665.79 265.40,667.80 265.95,667.80 265.95,686.25 266.50,686.25 266.50,676.54 267.05,676.54 267.05,684.11 267.60,684.11 267.60,682.78 268.15,682.78 268.15,685.44 268.70,685.44 268.70,680.51 269.25,680.51 269.25,692.27 269.80,692.27 269.80,701.17 270.35,701.17 270.35,698.03 270.90,698.03 270.90,695.09 271.45,695.09 271.45,703.49 272.00,703.49 272.00,702.09 272.55,702.09 272.55,714.16 273.10,714.16 273.10,714.96 273.65,714.96 273.65,721.37 274.20,721.37 274.20,721.31 274.75,721.31 274.75,722.24 275.30,722.24 275.30,726.52 275.85,726.52 275.85,728.22 276.40,728.22 276.40,728.32 276.95,728.32 276.95,729.12 277.50,729.12 277.50,732.01 278.05,732.01 278.05,732.63 278.60,732.63 278.60,735.72 279.15,735.72 279.15,737.48 279.70,737.48 279.70,738.09 280.25,738.09 280.25,739.50 280.80,739.50 280.80,741.65 281.35,741.65 281.35,741.29 281.90,741.29 281.90,744.11 282.45,744.11 282.45,745.34 283.00,745.34 283.00,744.62 283.55,744.62 283.55,745.05 284.10,745.05 284.10,746.59 284.65,746.59 284.65,747.95 285.20,747.95 285.20,747.62 285.75,747.62 285.75,747.21 286.30,747.21 286.30,748.14 286.85,748.14 286.85,748.06 287.40,748.06 287.40,748.40 287.95,748.40 287.95,748.40 288.50,748.40 288.50,748.40" fill="#555555" stroke="none"/>
<text x="426.00" y="706.80" font-size="14.3" font-weight="bold" text-anchor="start" fill="#111" >K562</text>
<text x="234.40" y="768.90" font-size="15" font-weight="bold" fill="#111">10</text>
<text x="251.20" y="764.30" font-size="10" font-weight="bold" fill="#111">0</text>
<text x="408.00" y="768.90" font-size="15" font-weight="bold" fill="#111">10</text>
<text x="426.40" y="764.30" font-size="9.5" font-weight="bold" fill="#111">4</text>
<text transform="translate(229.3,747.5) rotate(-90)" font-size="14" font-weight="bold" fill="#111">Counts</text>
<text x="265.80" y="783.60" font-size="14" font-weight="bold" text-anchor="start" fill="#111" >Fluorescence</text>
<line x1="224.60" y1="756.00" x2="224.60" y2="779.10" stroke="#111" stroke-width="1.5"/>
<line x1="223.90" y1="779.10" x2="252.00" y2="779.10" stroke="#111" stroke-width="1.5"/>
<polygon points="224.6,750.8 220.9,758.2 228.3,758.2" fill="#111"/>
<polygon points="258.4,779.1 250.2,775.5 250.2,782.7" fill="#111"/>
</svg>
</body></html>
